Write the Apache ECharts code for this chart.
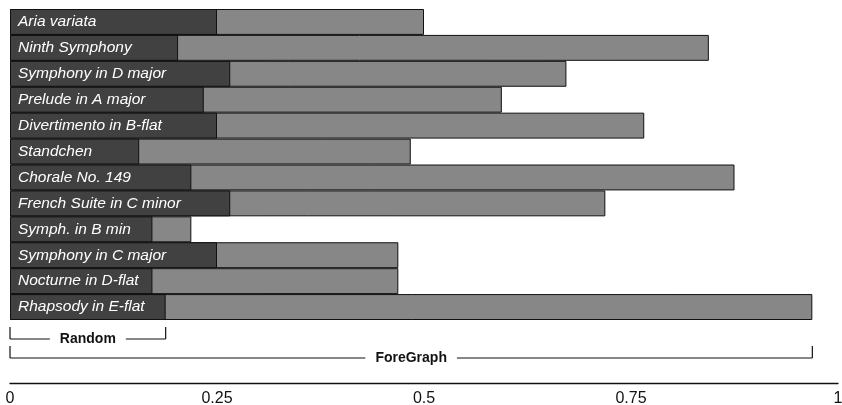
<!DOCTYPE html>
<html>
<head>
<meta charset="utf-8">
<script src="https://cdn.jsdelivr.net/npm/echarts@6/dist/echarts.min.js"></script>
<style>
html,body{margin:0;padding:0;background:#fff;overflow:hidden;}
#chart{width:842px;height:405px;}
</style>
</head>
<body>
<div id="chart"></div>
<script>
var categories = ["Aria variata","Ninth Symphony","Symphony in D major","Prelude in A major","Divertimento in B-flat","Standchen","Chorale No. 149","French Suite in C minor","Symph. in B min","Symphony in C major","Nocturne in D-flat","Rhapsody in E-flat"];
var randomValues = [0.25,0.203,0.266,0.234,0.25,0.156,0.219,0.266,0.172,0.25,0.172,0.188];
var foreGraphValues = [0.5,0.844,0.672,0.594,0.766,0.484,0.875,0.719,0.219,0.469,0.469,0.969];
var xTicks = [0,0.25,0.5,0.75,1];
var bracketLabels = ["Random","ForeGraph"];

var FONT = '"Liberation Sans", Arial, Helvetica, sans-serif';
var chart = echarts.init(document.getElementById('chart'), null, {renderer:'canvas'});
var gridTop = 9, gridHeight = 311;
chart.setOption({
  animation:false,
  grid:{left:10,right:4,top:gridTop,height:gridHeight,containLabel:false,outerBoundsMode:'none'},
  xAxis:{
    type:'value',min:0,max:1,interval:0.25,
    position:'bottom',offset:63,
    axisLine:{show:true,lineStyle:{color:'#111',width:1.3}},
    axisTick:{show:false},
    splitLine:{show:false},
    axisLabel:{
      color:'#111',fontSize:16,fontFamily:FONT,margin:8,
      formatter:function(v){var i=xTicks.indexOf(v);return i>=0?String(xTicks[i]):'';}
    }
  },
  yAxis:{
    type:'category',data:categories,inverse:true,
    axisLine:{show:false},axisTick:{show:false},axisLabel:{show:false},splitLine:{show:false}
  },
  series:[
    {
      name:'ForeGraph',type:'bar',data:foreGraphValues,barCategoryGap:'0%',barGap:'-100%',
      itemStyle:{color:'#878787',borderColor:'#111',borderWidth:1},z:2
    },
    {
      name:'Random',type:'bar',data:randomValues,barCategoryGap:'0%',barGap:'-100%',
      itemStyle:{color:'#414141',borderColor:'#111',borderWidth:1},z:3,
      label:{
        show:true,position:'insideLeft',distance:8,color:'#fff',fontStyle:'italic',
        fontSize:15.5,fontFamily:FONT,
        formatter:function(p){return categories[p.dataIndex];}
      }
    }
  ]
});

function bracket(x0,x1,yTop,yBot,text){
  var cx=(x0+x1)/2;
  return [
    {type:'line',shape:{x1:x0,y1:yTop,x2:x0,y2:yBot},style:{stroke:'#111',lineWidth:1.2},silent:true},
    {type:'line',shape:{x1:x1,y1:yTop,x2:x1,y2:yBot},style:{stroke:'#111',lineWidth:1.2},silent:true},
    {type:'line',shape:{x1:x0,y1:yBot,x2:x1,y2:yBot},style:{stroke:'#111',lineWidth:1.2},silent:true},
    {type:'text',x:cx,y:yBot,z:10,style:{text:text,fill:'#111',font:'bold 14px '+FONT,align:'center',verticalAlign:'middle',backgroundColor:'#fff',padding:[2,10]},silent:true}
  ];
}
var last = categories.length-1;
var x0 = chart.convertToPixel({xAxisIndex:0},0);
var xR = chart.convertToPixel({xAxisIndex:0},randomValues[last]);
var xF = chart.convertToPixel({xAxisIndex:0},foreGraphValues[last]);
var gb = gridTop+gridHeight;
var els = bracket(x0,xR,gb+7,gb+19,bracketLabels[0]).concat(bracket(x0,xF,gb+26,gb+38,bracketLabels[1]));
chart.setOption({graphic:{elements:els}});
</script>
</body>
</html>
